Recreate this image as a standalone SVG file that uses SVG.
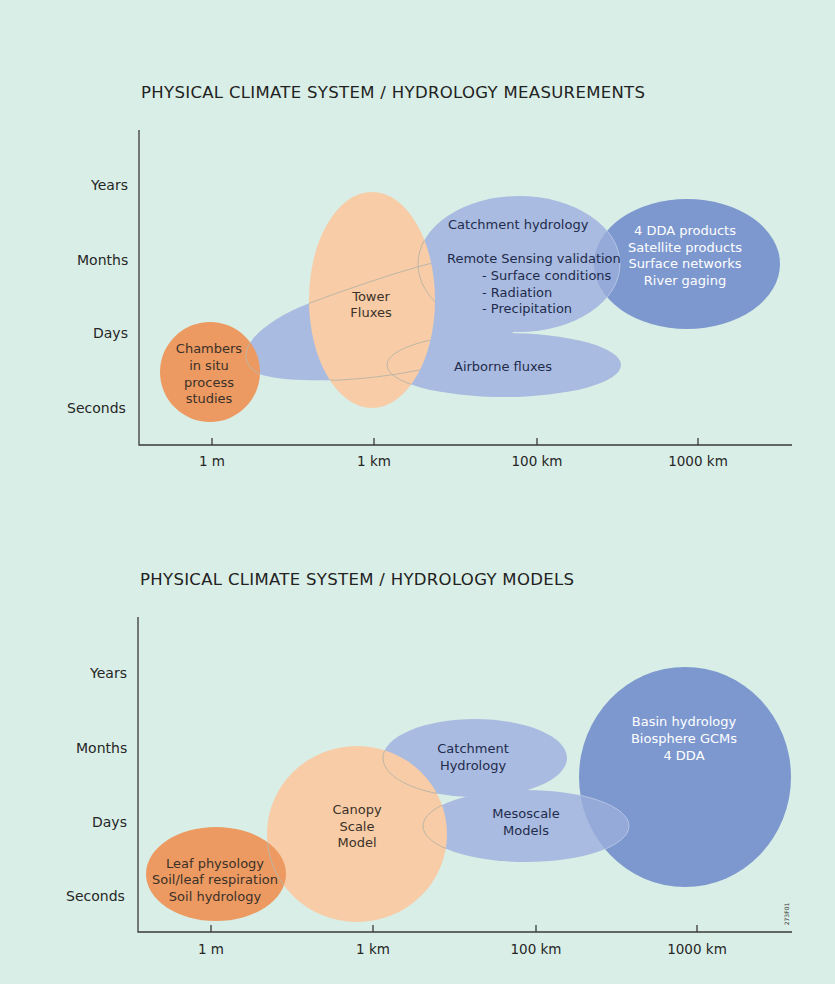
<svg xmlns="http://www.w3.org/2000/svg" width="835" height="984" viewBox="0 0 835 984">
<style>
.t { font-family: "DejaVu Sans", "Open Sans", sans-serif; }
.ax { font-size: 14px; fill: #262626; }
.tk { font-size: 13.5px; fill: #262626; text-anchor: middle; }
.title { font-size: 16.5px; fill: #222222; }
.lb { font-size: 13px; fill: #1f2b4c; }
.lbo { font-size: 13px; fill: #3b3129; }
.lbw { font-size: 13px; fill: #ffffff; }
.mid { text-anchor: middle; }
.light { fill: #A9BBE0; }
.dark { fill: #7D98CF; }
.peach { fill: #F8CCA6; }
.orange { fill: #EC9A61; }
.ovl { fill: #95AAD8; }
.ol { fill: none; stroke: #bdb6a6; stroke-width: 1; }
.olb { fill: none; stroke: #B3C3E4; stroke-width: 1; }
.axis { fill: none; stroke: #3a3a3a; stroke-width: 1.3; }
</style>
<defs>
  <path id="tailShape" d="M 246,356 C 245,340 270,318 310,303 C 345,290 390,274 432,263 L 520,250 L 530,325 L 430,368 C 400,374 375,378 340,380 C 310,381 280,380 262,375 C 252,371 246,364 246,356 Z"/>
  <clipPath id="cTower"><ellipse cx="372" cy="300" rx="63" ry="108"/></clipPath>
  <clipPath id="cChambers"><circle cx="210" cy="372" r="50"/></clipPath>
  <clipPath id="cDDA"><ellipse cx="687" cy="264" rx="93" ry="65"/></clipPath>
  <clipPath id="cCanopy"><ellipse cx="357" cy="834" rx="90" ry="88"/></clipPath>
  <clipPath id="cLeaf"><ellipse cx="216" cy="874" rx="70" ry="47"/></clipPath>
  <clipPath id="cBasin"><ellipse cx="685" cy="777" rx="106" ry="110"/></clipPath>
</defs>

<rect x="0" y="0" width="835" height="984" fill="#D9EEE6"/>

<!-- ===== TOP CHART ===== -->
<text class="t title" x="141" y="98" textLength="504">PHYSICAL CLIMATE SYSTEM / HYDROLOGY MEASUREMENTS</text>

<g id="axes-top">
  <path class="axis" d="M139,130 V445 H792"/>
  <path class="axis" d="M212,438 V445 M374,438 V445 M537,438 V445 M698,438 V445"/>
  <text class="t ax" x="91" y="190">Years</text>
  <text class="t ax" x="77" y="265">Months</text>
  <text class="t ax" x="93" y="338">Days</text>
  <text class="t ax" x="67" y="413">Seconds</text>
  <text class="t tk" x="212" y="466">1 m</text>
  <text class="t tk" x="374" y="466">1 km</text>
  <text class="t tk" x="537" y="466">100 km</text>
  <text class="t tk" x="698" y="466">1000 km</text>
</g>

<g id="connectors"></g>

<g id="m-tail">
  <use href="#tailShape" class="light"/>
</g>

<g id="m-airborne">
  <ellipse class="light" cx="504" cy="365" rx="117" ry="32"/>
  <text class="t lb" x="454" y="371">Airborne fluxes</text>
</g>

<g id="m-dda">
  <ellipse class="dark" cx="687" cy="264" rx="93" ry="65"/>
  <text class="t lbw mid" x="685" y="235">4 DDA products</text>
  <text class="t lbw mid" x="685" y="251.5">Satellite products</text>
  <text class="t lbw mid" x="685" y="268">Surface networks</text>
  <text class="t lbw mid" x="685" y="285">River gaging</text>
</g>

<g id="m-catchment">
  <ellipse class="light" cx="519" cy="264" rx="101" ry="68"/>
  <ellipse class="ovl" cx="519" cy="264" rx="101" ry="68" clip-path="url(#cDDA)"/>
  <ellipse class="olb" cx="519" cy="264" rx="101" ry="68" clip-path="url(#cDDA)"/>
  <text class="t lb" x="448" y="229">Catchment hydrology</text>
  <text class="t lb" x="447" y="263">Remote Sensing validation</text>
  <text class="t lb" x="482" y="280">- Surface conditions</text>
  <text class="t lb" x="482" y="296.5">- Radiation</text>
  <text class="t lb" x="482" y="313">- Precipitation</text>
</g>

<g id="m-tower">
  <ellipse class="peach" cx="372" cy="300" rx="63" ry="108"/>
  <g clip-path="url(#cTower)">
    <use href="#tailShape" class="ol"/>
    <ellipse class="ol" cx="519" cy="264" rx="101" ry="68"/>
    <ellipse class="ol" cx="504" cy="365" rx="117" ry="32"/>
  </g>
  <text class="t lbo mid" x="371" y="300.5">Tower</text>
  <text class="t lbo mid" x="371" y="317">Fluxes</text>
</g>

<g id="m-chambers">
  <circle class="orange" cx="210" cy="372" r="50"/>
  <use href="#tailShape" class="ol" clip-path="url(#cChambers)"/>
  <text class="t lbo mid" x="209" y="353">Chambers</text>
  <text class="t lbo mid" x="209" y="370">in situ</text>
  <text class="t lbo mid" x="209" y="386.5">process</text>
  <text class="t lbo mid" x="209" y="403">studies</text>
</g>

<!-- ===== BOTTOM CHART ===== -->
<text class="t title" x="140" y="585" textLength="434">PHYSICAL CLIMATE SYSTEM / HYDROLOGY MODELS</text>

<g id="axes-bottom">
  <path class="axis" d="M138,617 V932 H792"/>
  <path class="axis" d="M211,925 V932 M373,925 V932 M536,925 V932 M697,925 V932"/>
  <text class="t ax" x="90" y="678">Years</text>
  <text class="t ax" x="76" y="753">Months</text>
  <text class="t ax" x="92" y="827">Days</text>
  <text class="t ax" x="66" y="901">Seconds</text>
  <text class="t tk" x="211" y="954">1 m</text>
  <text class="t tk" x="373" y="954">1 km</text>
  <text class="t tk" x="536" y="954">100 km</text>
  <text class="t tk" x="697" y="954">1000 km</text>
</g>

<g id="n-catchment">
  <ellipse class="light" cx="475" cy="758" rx="92" ry="39"/>
  <text class="t lb mid" x="473" y="753">Catchment</text>
  <text class="t lb mid" x="473" y="769.5">Hydrology</text>
</g>

<g id="n-basin">
  <ellipse class="dark" cx="685" cy="777" rx="106" ry="110"/>
  <text class="t lbw mid" x="684" y="726">Basin hydrology</text>
  <text class="t lbw mid" x="684" y="743">Biosphere GCMs</text>
  <text class="t lbw mid" x="684" y="760">4 DDA</text>
</g>

<g id="n-mesoscale">
  <ellipse class="light" cx="526" cy="826" rx="103" ry="36"/>
  <ellipse class="ovl" cx="526" cy="826" rx="103" ry="36" clip-path="url(#cBasin)"/>
  <ellipse class="olb" cx="526" cy="826" rx="103" ry="36" clip-path="url(#cBasin)"/>
  <text class="t lb mid" x="526" y="818">Mesoscale</text>
  <text class="t lb mid" x="526" y="835">Models</text>
</g>

<g id="n-canopy">
  <ellipse class="peach" cx="357" cy="834" rx="90" ry="88"/>
  <g clip-path="url(#cCanopy)">
    <ellipse class="ol" cx="475" cy="758" rx="92" ry="39"/>
    <ellipse class="ol" cx="526" cy="826" rx="103" ry="36"/>
  </g>
  <text class="t lbo mid" x="357" y="814">Canopy</text>
  <text class="t lbo mid" x="357" y="830.5">Scale</text>
  <text class="t lbo mid" x="357" y="847">Model</text>
</g>

<g id="n-leaf">
  <ellipse class="orange" cx="216" cy="874" rx="70" ry="47"/>
  <ellipse class="ol" cx="357" cy="834" rx="90" ry="88" clip-path="url(#cLeaf)"/>
  <text class="t lbo mid" x="215" y="868">Leaf physology</text>
  <text class="t lbo mid" x="215" y="884">Soil/leaf respiration</text>
  <text class="t lbo mid" x="215" y="900.5">Soil hydrology</text>
</g>

<text class="t" font-size="6" fill="#333" text-anchor="middle" transform="translate(789,914) rotate(-90)">273F01</text>
</svg>
